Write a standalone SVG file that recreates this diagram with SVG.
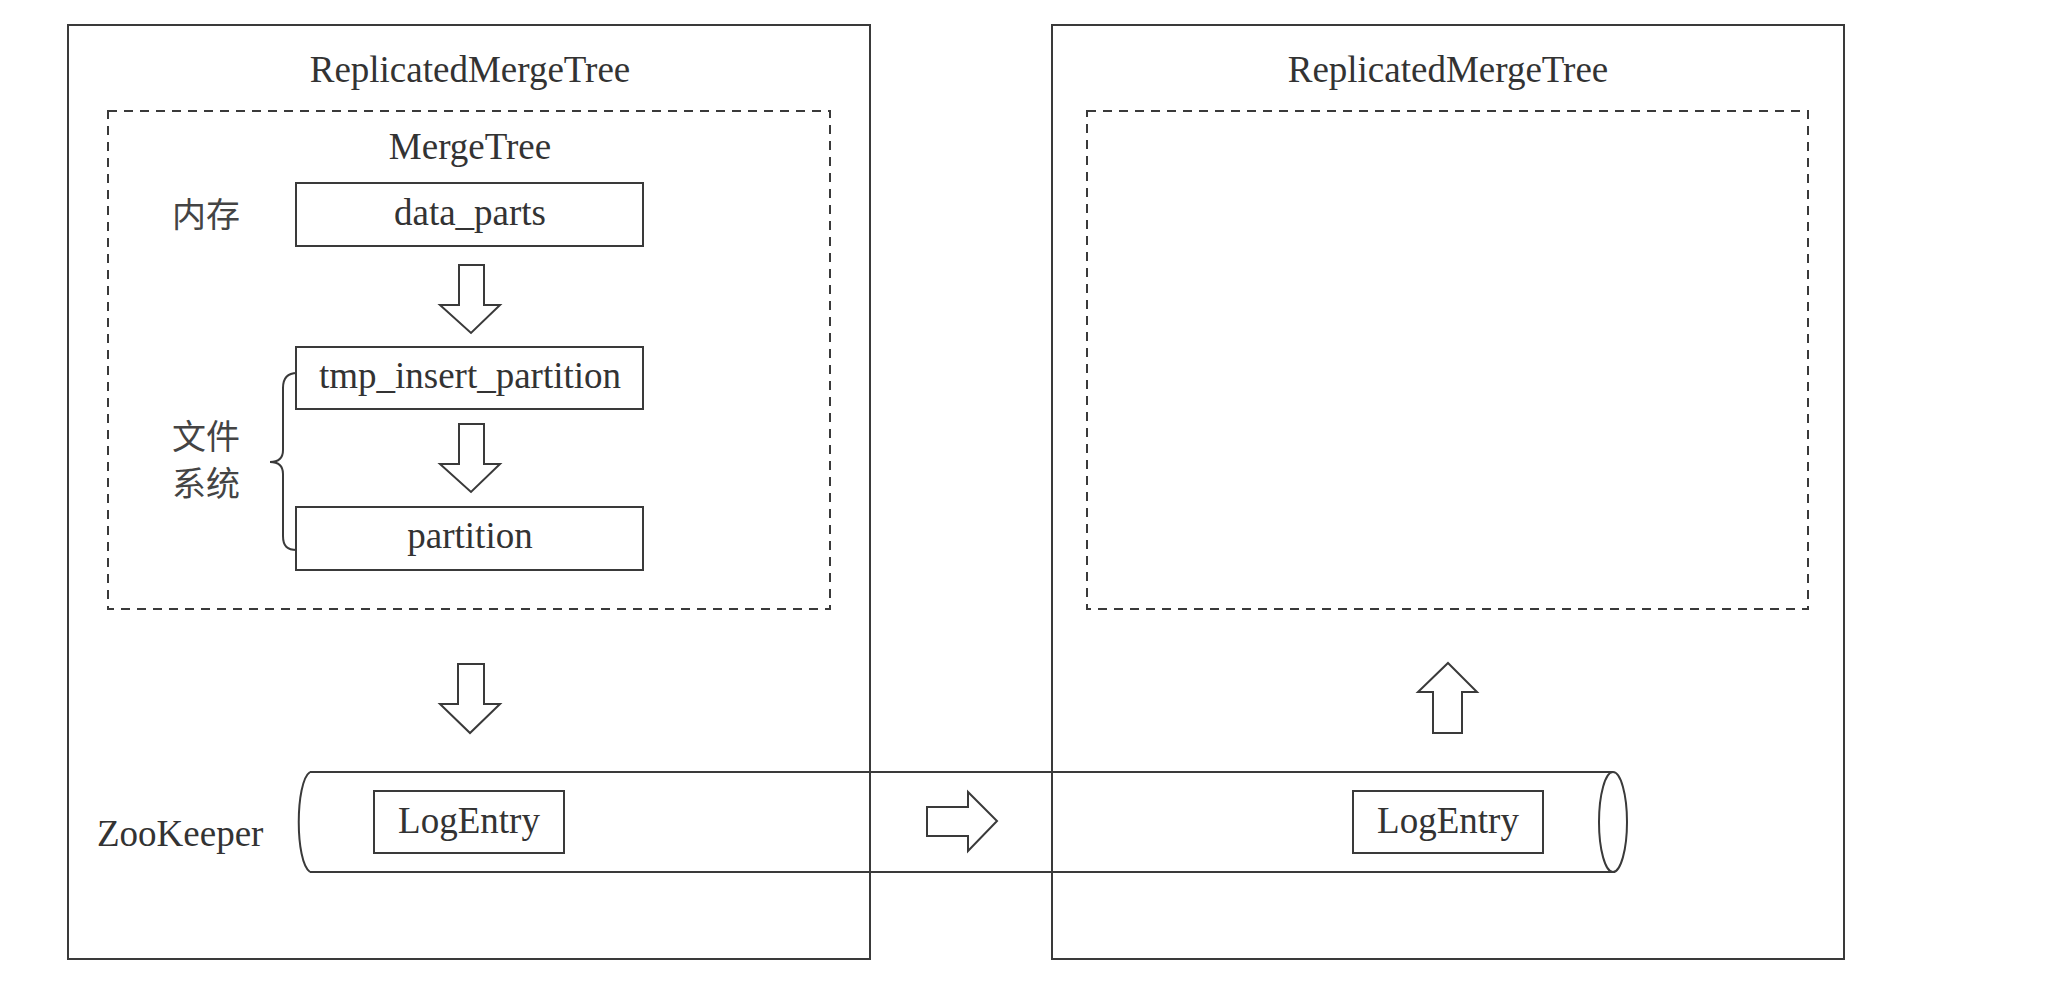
<svg xmlns="http://www.w3.org/2000/svg" width="2051" height="981" viewBox="0 0 2051 981">
<style>
  .ln{fill:none;stroke:#3a3a3a;stroke-width:2}
  .box{fill:#fff;stroke:#3a3a3a;stroke-width:2}
  .dash{fill:none;stroke:#3a3a3a;stroke-width:2;stroke-dasharray:9 7}
  .arr{fill:#fff;stroke:#3a3a3a;stroke-width:2;stroke-linejoin:miter}
  .t{font-family:"Liberation Serif","Times New Roman",serif;font-size:37px;fill:#333}
  .c{text-anchor:middle}
  .cjk{font-family:"Noto Sans CJK SC","Liberation Sans",sans-serif;font-size:34px;fill:#444}
</style>
<rect width="2051" height="981" fill="#fff"/>
<g id="replica-left">
  <rect class="ln" x="68" y="25" width="802" height="934"/>
  <text class="t c" x="470" y="82">ReplicatedMergeTree</text>
</g>
<g id="replica-right">
  <rect class="ln" x="1052" y="25" width="792" height="934"/>
  <text class="t c" x="1448" y="82">ReplicatedMergeTree</text>
</g>
<g id="mergetree-left">
  <rect class="dash" x="108" y="111" width="722" height="498"/>
  <text class="t c" x="470" y="159">MergeTree</text>
</g>
<g id="mergetree-right">
  <rect class="dash" x="1087" y="111" width="721" height="498"/>
</g>
<g id="label-memory">
  <text class="cjk" x="172" y="227">内存</text>
</g>
<g id="data-parts">
  <rect class="box" x="296" y="183" width="347" height="63"/>
  <text class="t c" x="470" y="225">data_parts</text>
</g>
<g id="tmp-insert-partition">
  <rect class="box" x="296" y="347" width="347" height="62"/>
  <text class="t c" x="470" y="388">tmp_insert_partition</text>
</g>
<g id="partition">
  <rect class="box" x="296" y="507" width="347" height="63"/>
  <text class="t c" x="470" y="548">partition</text>
</g>
<g id="label-filesystem">
  <path class="ln" d="M297,373 C287,373 283,378 283,388 L283,450 C283,458 279,462 270,462 C279,462 283,466 283,474 L283,536 C283,546 287,550 297,550"/>
  <text class="cjk" x="172" y="449">文件</text>
  <text class="cjk" x="172" y="496">系统</text>
</g>
<g id="zookeeper">
  <path class="ln" d="M310,772 L1613,772 M310,872 L1613,872 M310,772 C295,782 295,862 310,872"/>
  <ellipse class="ln" cx="1613" cy="822" rx="14" ry="50"/>
  <text class="t" x="97" y="846">ZooKeeper</text>
</g>
<g id="logentry-left">
  <rect class="box" x="374" y="791" width="190" height="62"/>
  <text class="t c" x="469" y="833">LogEntry</text>
</g>
<g id="logentry-right">
  <rect class="box" x="1353" y="791" width="190" height="62"/>
  <text class="t c" x="1448" y="833">LogEntry</text>
</g>
<g id="connectors">
  <polygon class="arr" points="459,265 484,265 484,305 500,305 471,333 440,305 459,305"/>
  <polygon class="arr" points="459,424 484,424 484,464 500,464 471,492 440,464 459,464"/>
  <polygon class="arr" points="458,664 484,664 484,704 500,704 470,733 440,704 458,704"/>
  <polygon class="arr" points="927,807 968,807 968,792 997,821 968,851 968,836 927,836"/>
  <polygon class="arr" points="1448,663 1477,692 1462,692 1462,733 1433,733 1433,692 1418,692"/>
</g>
</svg>
